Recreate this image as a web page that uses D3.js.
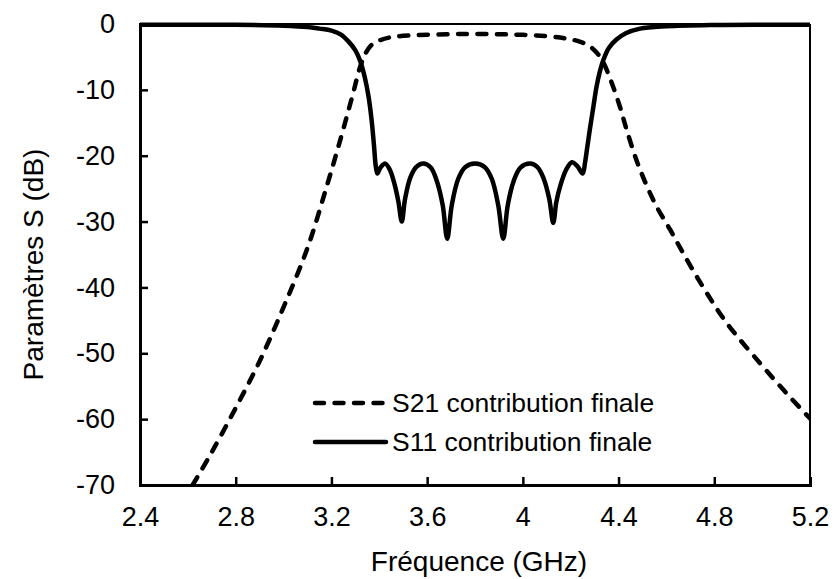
<!DOCTYPE html>
<html>
<head>
<meta charset="utf-8">
<script src="https://cdn.jsdelivr.net/npm/d3@7"></script>
<style>
  html, body { margin: 0; padding: 0; background: #fff; }
  svg { display: block; }
  text { font-family: "Liberation Sans", Arial, sans-serif; fill: #000; }
</style>
</head>
<body>
<svg id="chart" width="834" height="579"></svg>
<script>
// ---- Data ----
const s21Freq = [2.62, 2.7, 2.8, 2.9, 3.0, 3.1, 3.18, 3.24, 3.29, 3.32, 3.345, 3.37, 3.4, 3.45, 3.55, 3.7, 3.8, 3.9, 4.0, 4.1, 4.18, 4.24, 4.28, 4.31, 4.336, 4.37, 4.406, 4.434, 4.476, 4.517, 4.56, 4.615, 4.67, 4.754, 4.852, 4.991, 5.1, 5.2];
const s21dB   = [-70, -65.0, -58.3, -51.2, -43.0, -34.0, -24.7, -17.2, -10.6, -6.5, -4.3, -3.1, -2.5, -2.0, -1.7, -1.55, -1.5, -1.55, -1.65, -1.85, -2.2, -2.7, -3.4, -4.4, -5.8, -8.8, -12.6, -16.1, -20.8, -24.5, -27.8, -31.2, -34.8, -40.0, -45.4, -51.5, -56.0, -59.9];

const s11Freq = [2.4, 2.6, 2.8, 3.0, 3.1, 3.15, 3.2, 3.24, 3.27, 3.3, 3.32, 3.34, 3.355, 3.368, 3.378, 3.385, 3.392, 3.405, 3.425, 3.445, 3.465, 3.48, 3.494, 3.508, 3.53, 3.555, 3.584, 3.615, 3.64, 3.665, 3.684, 3.703, 3.73, 3.76, 3.8, 3.84, 3.87, 3.897, 3.918, 3.937, 3.962, 3.99, 4.03, 4.06, 4.085, 4.11, 4.127, 4.14, 4.157, 4.18, 4.205, 4.228, 4.25, 4.26, 4.27, 4.28, 4.295, 4.308, 4.322, 4.336, 4.36, 4.39, 4.43, 4.49, 4.6, 4.8, 5.0, 5.2];
const s11dB   = [-0.1, -0.1, -0.12, -0.25, -0.45, -0.7, -1.0, -1.6, -2.6, -4.0, -5.6, -8.2, -11.0, -14.6, -18.5, -21.5, -22.7, -21.8, -21.2, -22.2, -24.5, -27, -30.0, -26.5, -23.3, -21.7, -21.2, -21.8, -23.8, -27.5, -32.6, -27.5, -23.5, -21.7, -21.2, -21.7, -23.5, -27.5, -32.6, -27.5, -23.8, -21.8, -21.2, -21.7, -23.3, -26.5, -30.2, -27, -24.5, -22.2, -21.0, -21.6, -22.7, -21, -18.5, -16.0, -12.5, -9.5, -7.2, -5.5, -3.6, -2.4, -1.4, -0.7, -0.35, -0.15, -0.1, -0.1];

const xTicks = [2.4, 2.8, 3.2, 3.6, 4.0, 4.4, 4.8, 5.2];
const yTicks = [0, -10, -20, -30, -40, -50, -60, -70];
const legendLabels = ["S21 contribution finale", "S11 contribution finale"];
const xTitle = "Fréquence (GHz)";
const yTitle = "Paramètres S (dB)";

// ---- Layout ----
const L = 140, R = 810, T = 24, B = 485;
const FS = 27, TFS = 28;
const svg = d3.select("#chart");
const x = d3.scaleLinear().domain([2.4, 5.2]).range([L, R]);
const y = d3.scaleLinear().domain([-70, 0]).range([B, T]);

svg.append("defs").append("clipPath").attr("id", "clip")
  .append("rect").attr("x", L).attr("y", T - 3).attr("width", R - L).attr("height", B - T + 3);

// frame (top & right)
svg.append("line").attr("x1", L).attr("x2", R).attr("y1", T).attr("y2", T)
  .attr("stroke", "#000").attr("stroke-width", 2);
svg.append("line").attr("x1", R).attr("x2", R).attr("y1", T).attr("y2", B)
  .attr("stroke", "#000").attr("stroke-width", 2);

// axes
const fmtX = d => d === 4 ? "4" : d3.format(".1f")(d);
const xAxis = d3.axisBottom(x).tickValues(xTicks).tickSize(-8).tickPadding(22).tickFormat(fmtX);
const yAxis = d3.axisLeft(y).tickValues(yTicks).tickSize(-8).tickPadding(25).tickFormat(d => d3.format("d")(d).replace("−", "-"));

const gx = svg.append("g").attr("transform", `translate(0,${B})`).call(xAxis);
const gy = svg.append("g").attr("transform", `translate(${L},0)`).call(yAxis);
[gx, gy].forEach(g => {
  g.select(".domain").attr("stroke", "#000").attr("stroke-width", 3);
  g.selectAll(".tick line").attr("stroke", "#000").attr("stroke-width", 2.5);
  g.selectAll(".tick text").attr("font-size", FS).attr("font-family", "Liberation Sans, Arial, sans-serif").attr("fill", "#000");
});

// lines
const line = d3.line().x(d => x(d[0])).y(d => y(d[1])).curve(d3.curveCatmullRom.alpha(0.5));
const s21 = s21Freq.map((f, i) => [f, s21dB[i]]);
const s11 = s11Freq.map((f, i) => [f, s11dB[i]]);
const plot = svg.append("g").attr("clip-path", "url(#clip)");
plot.append("path").datum(s21).attr("d", line).attr("fill", "none").attr("stroke", "#000")
  .attr("stroke-width", 4.5).attr("stroke-dasharray", "9,10.5").attr("stroke-linecap", "round");
plot.append("path").datum(s11).attr("d", line).attr("fill", "none").attr("stroke", "#000")
  .attr("stroke-width", 4.5).attr("stroke-linejoin", "round");

// legend
const legY = [403, 442];
legendLabels.forEach((lab, i) => {
  const ln = svg.append("line").attr("x1", 315).attr("x2", 386).attr("y1", legY[i]).attr("y2", legY[i])
    .attr("stroke", "#000").attr("stroke-width", 4.5).attr("stroke-linecap", "round");
  if (i === 0) ln.attr("stroke-dasharray", "9,10.5");
  svg.append("text").attr("x", 392).attr("y", legY[i]).attr("dy", "0.35em")
    .attr("font-size", 26.5).text(lab);
});

// titles
svg.append("text").attr("x", (L + R) / 2 + 4).attr("y", 561).attr("dy", "0.35em")
  .attr("text-anchor", "middle").attr("font-size", TFS).text(xTitle);
svg.append("text").attr("transform", `translate(33,${(T + B) / 2 + 10}) rotate(-90)`).attr("dy", "0.35em")
  .attr("text-anchor", "middle").attr("font-size", TFS).text(yTitle);
</script>
</body>
</html>
